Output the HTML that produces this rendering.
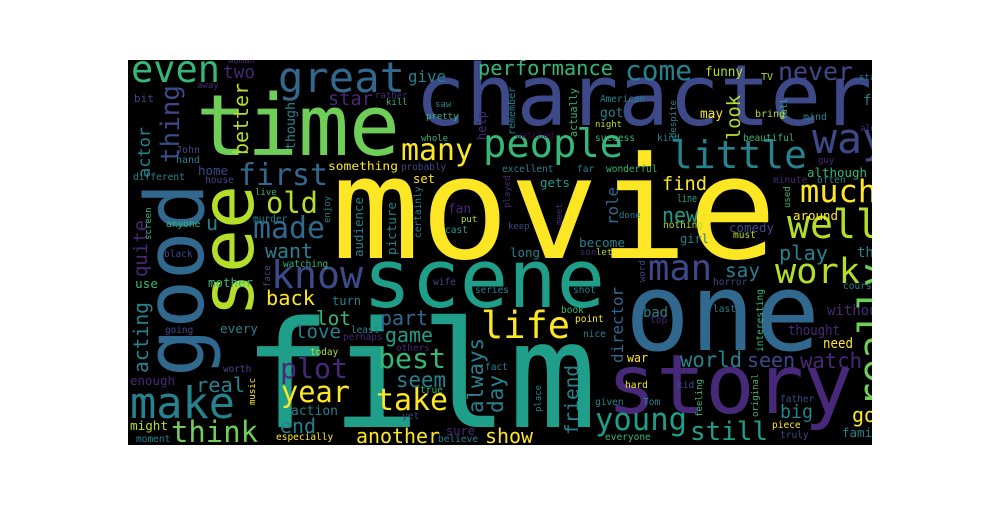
<!DOCTYPE html>
<html><head><meta charset="utf-8"><style>
html,body{margin:0;padding:0;background:#fff;}
svg text{font-family:"DejaVu Sans Mono","Liberation Mono",monospace;}
</style></head><body>
<svg width="1000" height="500" viewBox="0 0 1000 500" xmlns="http://www.w3.org/2000/svg">
<defs><clipPath id="cl"><rect x="128" y="60" width="744" height="385"/></clipPath></defs>
<rect x="128" y="60" width="744" height="385" fill="#000"/>
<g id="words" clip-path="url(#cl)"></g>
</svg>
<script>
const C={Y:'#fde725',YG:'#b5de2b',LG:'#6ece58',G:'#35b779',TG:'#1f9e89',T:'#26828e',B:'#31688e',BL:'#3e4989',P:'#482878',DP:'#440154'};
// word, x, baseline y, font size, width (0=auto), color, rotated
const words=[
['movie',331,258,142,446,'Y',0],
['film',243,427,148,354,'TG',0],
['one',625,350,108,195,'B',0],
['character',415,125,85,457,'BL',0],
['time',196,155,85,204,'LG',0],
['scene',363,307,81,242,'TG',0],
['story',607,413,82,246,'P',0],
['good',203,377,81,194,'B',1],
['see',253,317,73,132,'YG',1],
['really',887,407,40,144,'LG',1],
['great',278,92,42,127,'B',0],
['even',131,82,37,89,'G',0],
['thing',179,163,26,78,'BL',1],
['two',223,78,18,32,'P',0],
['people',483,157,39,140,'G',0],
['little',670,168,38,137,'T',0],
['way',812,153,42,75,'BL',0],
['never',778,80,25,75,'BL',0],
['come',625,80,28,67,'T',0],
['performance',478,75,20,135,'G',0],
['give',408,82,16,38,'T',0],
['much',800,202,31,77,'Y',0],
['well',787,238,40,92,'YG',0],
['many',401,160,30,72,'Y',0],
['first',238,185,30,90,'B',0],
['old',266,213,29,52,'YG',0],
['made',253,238,30,72,'B',0],
['know',271,288,38,92,'BL',0],
['make',130,418,44,105,'T',0],
['think',171,442,29,87,'LG',0],
['work',775,283,35,85,'YG',0],
['man',648,280,36,64,'BL',0],
['life',481,338,37,89,'Y',0],
['best',378,368,28,68,'G',0],
['plot',280,378,28,68,'P',0],
['year',281,402,29,69,'Y',0],
['take',376,410,30,72,'Y',0],
['another',356,443,20,84,'Y',0],
['young',595,430,31,92,'TG',0],
['still',690,440,26,78,'TG',0],
['seen',747,367,20,48,'BL',0],
['world',680,367,21,62,'T',0],
['watch',800,368,21,62,'P',0],
['big',780,418,19,33,'T',0],
['director',623,363,16,76,'B',1],
['friend',578,435,19,70,'T',1],
['role',618,225,16,38,'B',1],
['find',662,190,19,45,'Y',0],
['new',662,222,20,36,'TG',0],
['although',807,177,12.5,60,'G',0],
['around',793,220,12.5,45,'Y',0],
['comedy',729,232,12.5,45,'BL',0],
['girl',680,243,12,0,'T',0],
['become',579,247,12.8,46,'T',0],
['look',740,140,19,45,'YG',1],
['may',700,118,13,23,'Y',0],
['funny',705,76,13,38,'YG',0],
['star',328,105,19,45,'P',0],
['better',248,155,20,72,'YG',1],
['actor',150,178,17,51,'T',1],
['quite',147,277,19,57,'P',1],
['acting',148,373,20,71,'T',1],
['love',295,338,19,46,'T',0],
['lot',316,325,19.5,35,'G',0],
['part',380,325,20,48,'B',0],
['game',385,342,20,48,'TG',0],
['seem',396,387,21,50,'T',0],
['end',280,433,20,36,'T',0],
['real',196,392,20,49,'T',0],
['back',266,305,20,49,'Y',0],
['want',265,258,20,48,'T',0],
['say',725,277,19.5,35,'T',0],
['play',779,260,20,49,'T',0],
['bad',643,317,14,25,'T',0],
['show',485,443,20,48,'Y',0],
['always',483,413,21,75,'T',1],
['day',503,413,21,38,'T',1],
['thought',788,335,14,52,'P',0],
['need',823,348,14,30,'Y',0],
['without',827,315,14,0,'P',0],
['go',852,422,20,0,'Y',0],
['family',842,437,12.5,0,'T',0],
['three',857,257,14,0,'T',0],
['u',206,230,20,0,'T',0],
['audience',363,257,12.5,60,'T',1],
['picture',396,255,12.5,53,'T',1],
['something',328,170,11.7,70,'Y',0],
['home',198,175,12.5,30,'BL',0],
['fan',448,213,13,23,'P',0],
['set',413,183,12,22,'Y',0],
['mother',208,287,12.5,45,'G',0],
['use',135,288,12.8,23,'G',0],
['turn',332,305,12,29,'T',0],
['every',220,333,12.8,38,'T',0],
['enough',130,385,12.5,45,'P',0],
['action',291,415,13,47,'T',0],
['might',130,430,12.7,38,'YG',0],
['sure',446,435,12,29,'P',0],
['gets',540,187,12.5,30,'TG',0],
['line',677,202,11,20,'TG',0],
['long',510,257,12.5,30,'T',0],
['war',627,362,12,21,'Y',0],
['though',295,150,13,48,'T',1],
['actually',577,137,11,49,'G',1],
['woman',228,63,9,0,'P',0],['away',197,88,9,0,'P',0],['bit',134,102,11,0,'BL',0],['rather',375,98,9,0,'P',0],
['kill',386,105,9,0,'G',0],['saw',435,107,9,0,'T',0],['pretty',426,119,9,0,'G',0],['help',486,140,12,0,'P',1],
['whole',421,141,9,0,'G',0],['John',176,153,10,0,'BL',0],['hand',176,163,10,0,'T',0],
['probably',401,170,9.4,0,'BL',0],['different',133,180,9.6,0,'T',0],
['house',205,183,9.6,0,'BL',0],['live',255,195,9,0,'G',0],
['put',461,222,9,0,'YG',0],['cast',445,233,9.5,0,'TG',0],
['certainly',421,238,9.5,0,'T',1],['enjoy',330,223,9,0,'T',1],['murder',253,222,9.5,0,'T',0],['anyone',166,227,9.5,0,'G',0],
['screen',151,240,9,0,'G',1],['remember',515,135,10,0,'T',1],['watched',516,138,9,0,'DP',0],
['American',600,102,9.4,0,'T',0],['got',600,117,13,0,'T',0],['night',595,127,9,0,'YG',0],['despite',676,138,9,0,'T',1],
['success',595,141,9.5,0,'G',0],['kind',657,141,9.5,0,'T',0],['beautiful',743,141,9.5,0,'G',0],['TV',761,80,10,0,'YG',0],
['full',787,120,9,0,'G',1],['bring',755,117,10,0,'YG',0],['mind',803,120,10,0,'T',0],['feel',863,105,14,0,'T',0],
['start',859,80,9,0,'T',0],['almost',860,131,9,0,'P',0],['guy',818,163,9,0,'P',0],['excellent',502,172,9.5,0,'T',0],
['far',577,172,9.5,0,'T',0],['wonderful',606,172,9.5,0,'G',0],['minute',773,183,9.5,0,'P',0],['often',817,183,9.5,0,'T',0],
['played',510,208,9,0,'P',1],['used',790,208,9,0,'G',1],
['meet',562,225,9,0,'P',1],['done',619,218,9,0,'T',0],['keep',508,229,9,0,'BL',0],['nothing',663,228,9.5,0,'YG',0],
['must',733,238,9.5,0,'YG',0],['son',580,255,9,0,'P',0],['let',596,255,9,0,'YG',0],
['horror',713,285,9.5,0,'BL',0],['shot',573,293,9.5,0,'T',0],['word',645,282,9,0,'BL',1],['course',843,289,9.5,0,'T',0],
['last',713,312,9.5,0,'T',0],['book',561,313,9.5,0,'G',0],['point',575,322,9.5,0,'Y',0],['top',650,323,9.5,0,'P',0],
['interesting',763,352,9.5,0,'G',1],['nice',583,337,9.5,0,'T',0],['hard',625,388,9.5,0,'Y',0],
['kid',677,388,9.5,0,'BL',0],['feeling',702,417,9,0,'G',1],['original',758,417,9,0,'G',1],['father',780,402,9.5,0,'BL',0],
['place',541,412,9,0,'T',1],['given',595,405,9.5,0,'T',0],['Tom',643,405,9.5,0,'T',0],['piece',772,428,9.5,0,'Y',0],
['truly',780,438,9.5,0,'BL',0],['everyone',605,440,9.5,0,'G',0],['black',164,257,9.5,0,'BL',0],['watching',283,267,9.4,0,'G',0],
['face',270,287,9,0,'BL',1],['wife',433,285,9.5,0,'BL',0],['series',475,293,9.4,0,'T',0],
['going',165,333,9.4,0,'BL',0],
['least',351,333,9.4,0,'T',0],['perhaps',343,340,9.4,0,'P',0],['others',396,351,9.4,0,'P',0],['today',310,355,9.4,0,'YG',0],
['worth',223,372,9.4,0,'BL',0],['music',255,405,9,0,'Y',1],['true',420,393,9.5,0,'G',0],
['yet',402,419,9.5,0,'BL',0],
['moment',136,442,9.5,0,'T',0],['especially',276,440,9.5,0,'Y',0],['believe',438,442,9.5,0,'T',0],['fact',485,370,9.5,0,'T',0]
];
const g=document.getElementById('words');
const NS='http://www.w3.org/2000/svg';
words.forEach(w=>{
  const t=document.createElementNS(NS,'text');
  
  
  t.setAttribute('font-size',w[3]);
  t.setAttribute('fill',C[w[5]]);
  if(w[6]==1){t.setAttribute('transform','translate('+w[1]+','+w[2]+') rotate(-90)');}
  else{t.setAttribute('x',w[1]);t.setAttribute('y',w[2]);}
  if(w[4]>0){t.setAttribute('textLength',w[4]);t.setAttribute('lengthAdjust','spacingAndGlyphs');}
  t.textContent=w[0];
  g.appendChild(t);
});
</script>
</body></html>
